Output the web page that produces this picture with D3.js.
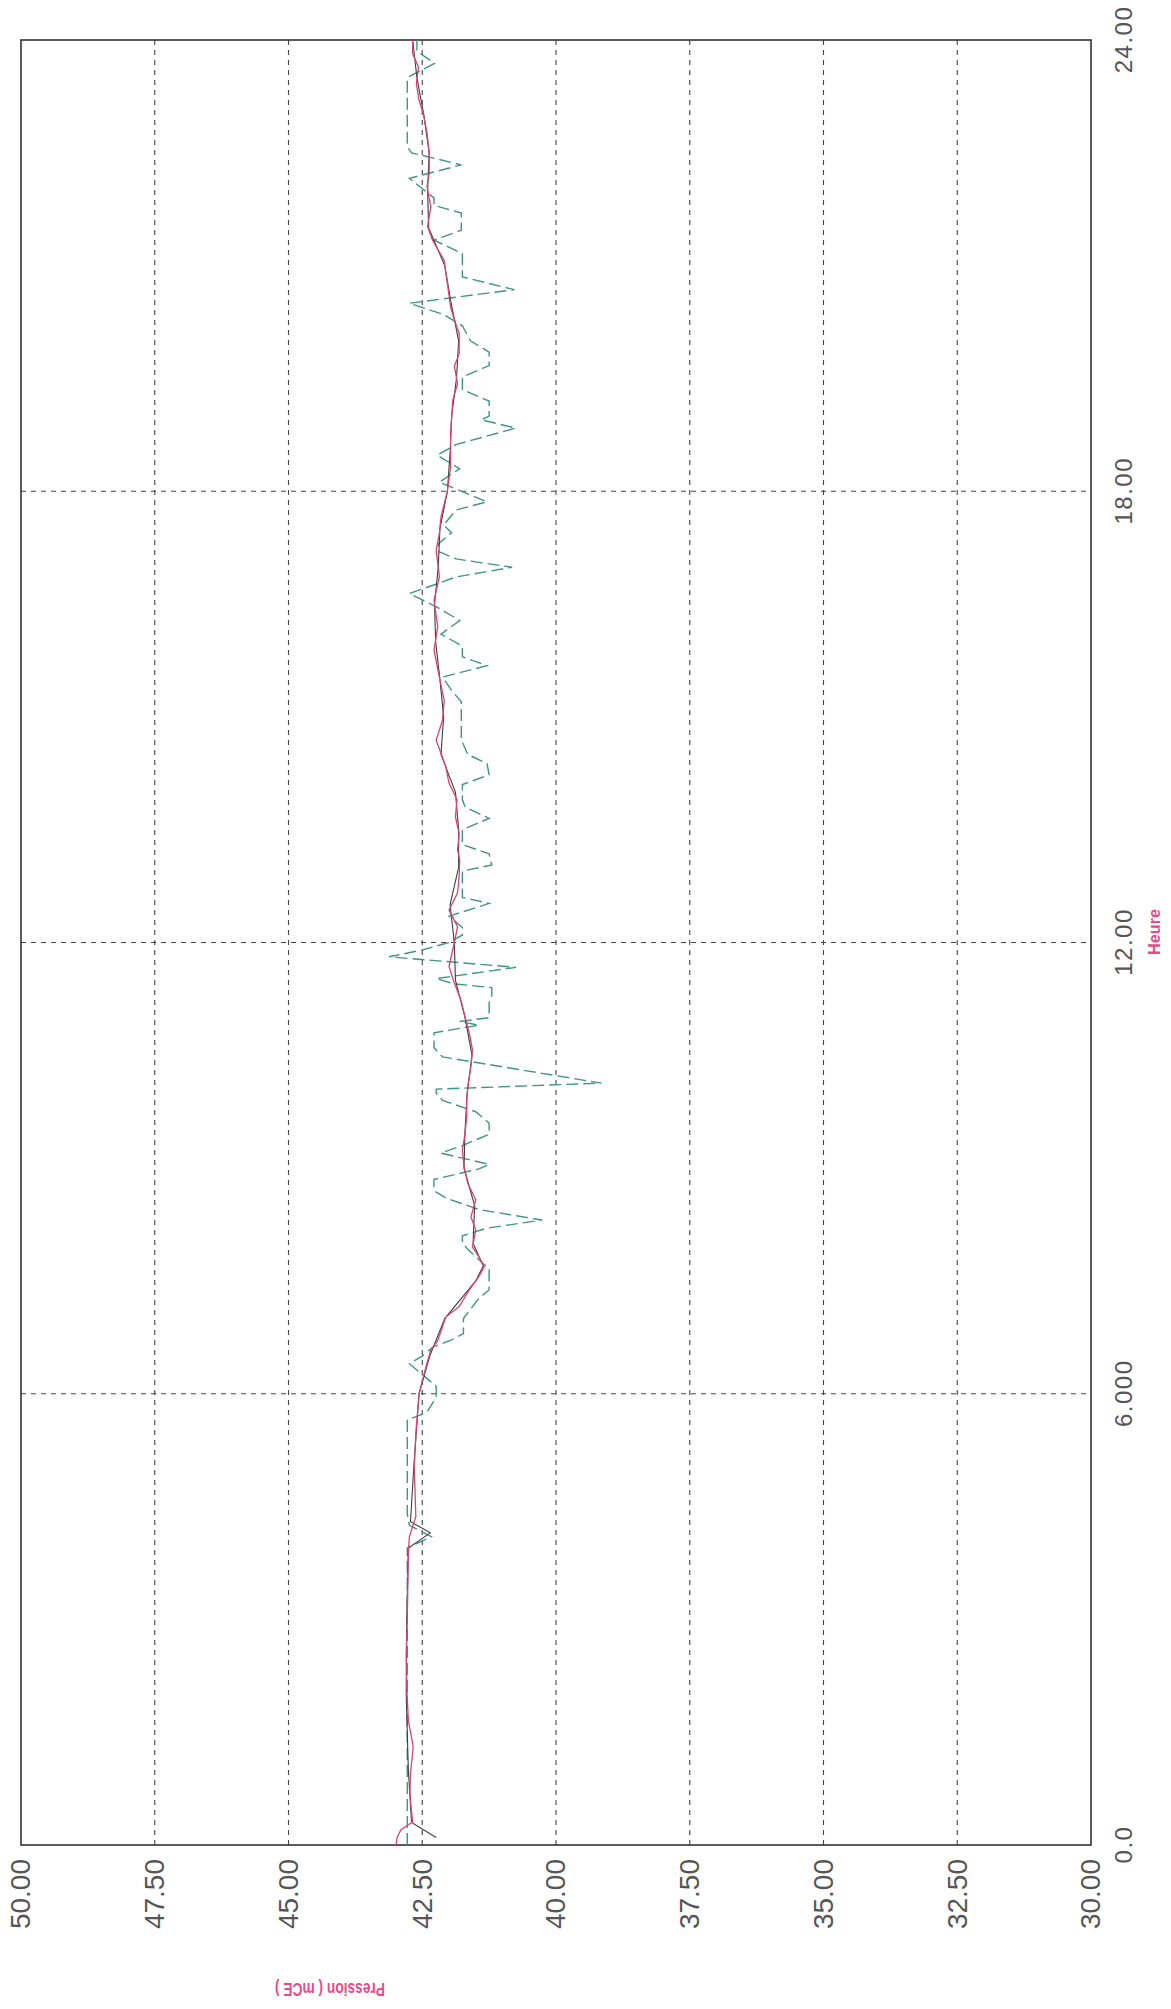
<!DOCTYPE html>
<html>
<head>
<meta charset="utf-8">
<script src="https://cdn.jsdelivr.net/npm/d3@7"></script>
<style>
  html, body { margin: 0; padding: 0; background: #ffffff; }
  svg { display: block; }
</style>
</head>
<body>
<script>
// ---------- DATA ----------
const hourTicks = [0, 6, 12, 18, 24];
const hourTickLabels = ["0.0", "6.000", "12.00", "18.00", "24.00"];
const pressureTicks = [50, 47.5, 45, 42.5, 40, 37.5, 35, 32.5, 30];
const pressureTickLabels = ["50.00", "47.50", "45.00", "42.50", "40.00", "37.50", "35.00", "32.50", "30.00"];
const xTitle = "Heure";
const yTitle = "Pression ( mCE )";

// red / pink series (solid)
const redHours = [0.0, 0.1, 0.2, 0.31, 0.51, 0.69, 0.95, 1.22, 1.31, 1.66, 2.1, 2.55, 2.99, 3.43, 3.88, 4.1, 4.37, 5.03, 5.47, 5.92, 6.0, 6.36, 6.58, 6.71, 7.02, 7.16, 7.38, 7.56, 7.69, 7.82, 7.95, 8.18, 8.35, 8.58, 8.8, 9.02, 9.24, 9.46, 9.68, 9.91, 10.13, 10.35, 10.57, 10.79, 11.01, 11.24, 11.46, 11.68, 12.0, 12.21, 12.43, 12.66, 12.88, 13.1, 13.23, 13.45, 13.67, 13.9, 14.12, 14.34, 14.69, 14.96, 15.22, 15.53, 15.89, 16.2, 16.55, 16.86, 17.22, 17.44, 17.66, 18.0, 18.33, 18.77, 19.21, 19.43, 19.66, 19.83, 20.1, 20.28, 20.45, 20.76, 21.07, 21.34, 21.52, 21.78, 22.05, 22.23, 22.49, 22.76, 23.02, 23.2, 23.42, 23.64, 23.82, 24.0];
const redValues = [42.99, 42.97, 42.9, 42.68, 42.71, 42.73, 42.72, 42.68, 42.67, 42.76, 42.79, 42.8, 42.78, 42.77, 42.76, 42.74, 42.62, 42.65, 42.62, 42.57, 42.56, 42.43, 42.34, 42.21, 42.06, 41.81, 41.62, 41.44, 41.34, 41.44, 41.56, 41.5, 41.59, 41.5, 41.65, 41.72, 41.75, 41.7, 41.67, 41.67, 41.64, 41.59, 41.56, 41.62, 41.7, 41.78, 41.9, 42.0, 41.9, 41.84, 42.0, 41.84, 41.81, 41.8, 41.84, 41.81, 41.88, 41.85, 42.0, 42.06, 42.24, 42.12, 42.09, 42.18, 42.28, 42.21, 42.28, 42.18, 42.24, 42.18, 42.15, 42.03, 41.97, 41.97, 41.93, 41.84, 41.9, 41.81, 41.81, 41.9, 41.97, 42.03, 42.09, 42.31, 42.4, 42.34, 42.41, 42.37, 42.37, 42.41, 42.48, 42.56, 42.61, 42.57, 42.68, 42.68];

// dark series (thin, follows the red one)
const darkHours = [0.1, 0.3, 1.0, 2.0, 3.0, 3.95, 4.15, 4.3, 5.0, 6.0, 6.5, 7.0, 7.5, 7.7, 8.0, 8.5, 9.0, 9.5, 10.0, 10.5, 11.0, 11.5, 12.0, 12.5, 13.0, 13.5, 14.0, 14.5, 15.0, 15.5, 16.0, 16.5, 17.0, 17.5, 18.0, 18.5, 19.0, 19.5, 20.0, 20.5, 21.0, 21.5, 22.0, 22.5, 23.0, 23.5, 24.0];
const darkValues = [42.24, 42.7, 42.76, 42.8, 42.79, 42.76, 42.35, 42.72, 42.66, 42.56, 42.36, 42.08, 41.5, 41.36, 41.55, 41.52, 41.72, 41.7, 41.66, 41.57, 41.7, 41.88, 41.9, 41.98, 41.82, 41.82, 41.88, 42.15, 42.1, 42.17, 42.25, 42.27, 42.2, 42.17, 42.03, 41.98, 41.95, 41.86, 41.82, 41.96, 42.08, 42.38, 42.4, 42.37, 42.47, 42.6, 42.68];

// teal series (dashed, step-like with spikes)
const tealHours = [0.0, 0.3, 3.95, 4.1, 4.25, 4.4, 5.65, 5.75, 5.95, 6.1, 6.4, 6.5, 6.62, 6.72, 6.8, 7.0, 7.27, 7.38, 7.66, 7.9, 8.0, 8.1, 8.2, 8.31, 8.45, 8.6, 8.7, 8.85, 8.99, 9.05, 9.2, 9.3, 9.45, 9.6, 9.75, 9.9, 10.0, 10.05, 10.13, 10.42, 10.48, 10.6, 10.8, 10.9, 10.95, 11.0, 11.2, 11.3, 11.4, 11.45, 11.52, 11.67, 11.81, 11.9, 12.0, 12.1, 12.2, 12.35, 12.52, 12.6, 12.83, 12.95, 13.03, 13.18, 13.3, 13.5, 13.65, 13.8, 13.9, 14.1, 14.23, 14.38, 14.5, 14.7, 15.2, 15.35, 15.53, 15.68, 15.8, 15.94, 16.1, 16.28, 16.45, 16.64, 16.75, 16.86, 16.99, 17.1, 17.2, 17.3, 17.45, 17.55, 17.75, 17.86, 17.95, 18.12, 18.3, 18.48, 18.62, 18.84, 18.95, 19.0, 19.2, 19.35, 19.52, 19.67, 19.85, 20.0, 20.2, 20.35, 20.5, 20.68, 20.85, 21.16, 21.34, 21.47, 21.7, 21.8, 21.9, 22.16, 22.34, 22.5, 22.58, 23.38, 23.5, 23.69, 23.85, 24.0];
const tealValues = [42.78, 42.78, 42.78, 42.33, 42.74, 42.78, 42.78, 42.42, 42.24, 42.24, 42.74, 42.5, 42.3, 41.94, 41.73, 41.73, 41.44, 41.25, 41.25, 41.62, 41.75, 41.75, 41.3, 40.26, 41.44, 42.05, 42.28, 42.28, 41.44, 41.25, 42.15, 41.75, 41.25, 41.25, 41.5, 42.12, 42.24, 42.24, 39.15, 41.62, 42.12, 42.28, 42.28, 41.44, 41.8, 41.25, 41.25, 41.2, 41.2, 41.9, 42.24, 40.75, 43.12, 42.5, 42.0, 41.75, 41.75, 42.0, 41.25, 41.75, 41.75, 41.75, 41.2, 41.25, 41.75, 41.75, 41.25, 41.7, 41.75, 41.75, 41.25, 41.29, 41.65, 41.77, 41.77, 41.95, 42.12, 41.29, 41.75, 41.75, 42.15, 41.8, 42.2, 42.74, 42.3, 41.87, 40.82, 41.87, 42.2, 42.2, 41.95, 42.1, 41.87, 41.29, 41.6, 42.18, 41.8, 42.22, 41.87, 40.75, 41.4, 41.25, 41.25, 41.75, 41.75, 41.25, 41.25, 41.6, 41.75, 42.1, 42.74, 40.78, 41.75, 41.75, 42.28, 41.77, 41.77, 42.28, 42.28, 42.74, 41.77, 42.7, 42.78, 42.78, 42.78, 42.27, 42.6, 42.6];

// ---------- DRAWING ----------
const W = 1171, H = 2009;
const svg = d3.select("body").append("svg").attr("width", W).attr("height", H);
svg.append("rect").attr("width", W).attr("height", H).attr("fill", "#ffffff");

// The sheet is rotated: draw the chart upright inside a group turned by -90deg.
// group (u, v) -> page (v, H - u)
const g = svg.append("g").attr("transform", `translate(0,${H}) rotate(-90)`);

const x = d3.scaleLinear().domain([0, 24]).range([H - 1845, H - 40]);
const y = d3.scaleLinear().domain([50, 30]).range([21, 1091]);

const gridColor = "#444444";

// horizontal grid (pressure)
g.append("g").selectAll("line")
  .data(pressureTicks.filter(p => p !== 50 && p !== 30))
  .join("line")
  .attr("x1", x(0)).attr("x2", x(24))
  .attr("y1", d => y(d)).attr("y2", d => y(d))
  .attr("stroke", gridColor).attr("stroke-width", 1.1)
  .attr("stroke-dasharray", "5,5");

// vertical grid (hours)
g.append("g").selectAll("line")
  .data(hourTicks.filter(h => h !== 0 && h !== 24))
  .join("line")
  .attr("x1", d => x(d)).attr("x2", d => x(d))
  .attr("y1", y(50)).attr("y2", y(30))
  .attr("stroke", gridColor).attr("stroke-width", 1.1)
  .attr("stroke-dasharray", "5,5");

// frame
g.append("rect")
  .attr("x", x(0)).attr("y", y(50))
  .attr("width", x(24) - x(0)).attr("height", y(30) - y(50))
  .attr("fill", "none").attr("stroke", "#333333").attr("stroke-width", 1.6);

// series
const mk = (hours, vals) => hours.map((h, i) => ({ t: h, p: vals[i] }));
const line = d3.line().x(d => x(d.t)).y(d => y(d.p));

g.append("path").datum(mk(tealHours, tealValues))
  .attr("d", line).attr("fill", "none")
  .attr("stroke", "#3f9585").attr("stroke-width", 1.4)
  .attr("stroke-dasharray", "12,5");

g.append("path").datum(mk(darkHours, darkValues))
  .attr("d", line).attr("fill", "none")
  .attr("stroke", "#3d3d3d").attr("stroke-width", 1.1);

g.append("path").datum(mk(redHours, redValues))
  .attr("d", line).attr("fill", "none")
  .attr("stroke", "#d9436f").attr("stroke-width", 1.3);

// axes
const labelFont = "'Liberation Sans', Arial, sans-serif";
const xAxis = d3.axisBottom(x).tickValues(hourTicks)
  .tickFormat((d, i) => hourTickLabels[i]).tickSize(0).tickPadding(24);
const gx = g.append("g").attr("transform", `translate(0,${y(30)})`).call(xAxis);
gx.select(".domain").remove();
gx.selectAll("text")
  .attr("font-family", labelFont).attr("font-size", 24)
  .attr("letter-spacing", 1.5).attr("fill", "#555555");

const yAxis = d3.axisLeft(y).tickValues(pressureTicks)
  .tickFormat((d, i) => pressureTickLabels[i]).tickSize(0).tickPadding(14);
const gy = g.append("g").attr("transform", `translate(${x(0)},0)`).call(yAxis);
gy.select(".domain").remove();
gy.selectAll("text")
  .attr("font-family", labelFont).attr("font-size", 28)
  .attr("letter-spacing", 0).attr("fill", "#555555");

// titles
g.append("text")
  .attr("x", H - 932).attr("y", 1160)
  .attr("text-anchor", "middle")
  .attr("font-family", labelFont).attr("font-size", 16).attr("font-weight", "bold")
  .attr("textLength", 46).attr("lengthAdjust", "spacingAndGlyphs")
  .attr("fill", "#e8498a")
  .text(xTitle);

g.append("text")
  .attr("transform", `translate(${H - 1983},330) rotate(-90)`)
  .attr("text-anchor", "middle")
  .attr("font-family", labelFont).attr("font-size", 18).attr("font-weight", "bold")
  .attr("textLength", 110).attr("lengthAdjust", "spacingAndGlyphs")
  .attr("fill", "#e8498a")
  .text(yTitle);
</script>
</body>
</html>
